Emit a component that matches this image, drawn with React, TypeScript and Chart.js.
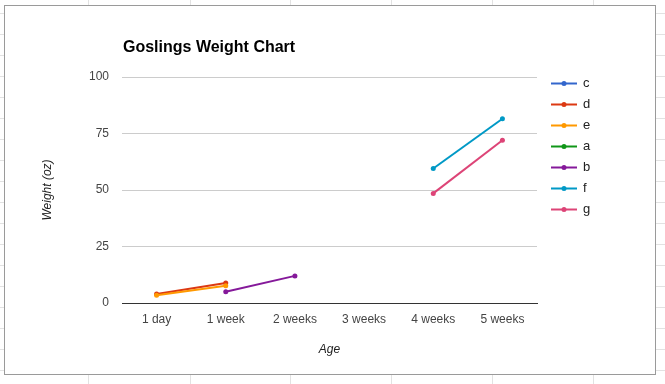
import React, { useEffect, useRef } from "react";
import { Chart, registerables } from "chart.js";

Chart.register(...registerables);

const categories = ["1 day", "1 week", "2 weeks", "3 weeks", "4 weeks", "5 weeks"];
const seriesNames = ["c", "d", "e", "a", "b", "f", "g"];
const seriesColors = ["#3366cc", "#dc3912", "#ff9900", "#109618", "#85199a", "#0099c6", "#dd4477"];
const cValues: (number | null)[] = [null, null, null, null, null, null];
const dValues: (number | null)[] = [4, 8.8, null, null, null, null];
const eValues: (number | null)[] = [3.4, 7.6, null, null, null, null];
const aValues: (number | null)[] = [null, null, null, null, null, null];
const bValues: (number | null)[] = [null, 5, 12, null, null, null];
const fValues: (number | null)[] = [null, null, null, null, 59.5, 81.5];
const gValues: (number | null)[] = [null, null, null, null, 48.5, 72];
const seriesValues = [cValues, dValues, eValues, aValues, bValues, fValues, gValues];
const yTicks = [0, 25, 50, 75, 100];
const chartTitle = "Goslings Weight Chart";
const xTitle = "Age";
const yTitle = "Weight (oz)";

const FONT = "Arial, 'Liberation Sans', sans-serif";

const backgroundPlugin = {
  id: "sheetBackground",
  beforeDraw(chart: any) {
    const ctx = chart.ctx;
    const W = chart.width;
    const H = chart.height;
    ctx.save();
    ctx.fillStyle = "#ffffff";
    ctx.fillRect(0, 0, W, H);
    ctx.strokeStyle = "#e2e2e2";
    ctx.lineWidth = 1;
    const cols = [88, 190, 290, 391, 492, 593];
    cols.forEach((x) => {
      ctx.beginPath();
      ctx.moveTo(x + 0.5, 0);
      ctx.lineTo(x + 0.5, H);
      ctx.stroke();
    });
    for (let y = 13; y < H; y += 21) {
      ctx.beginPath();
      ctx.moveTo(0, y + 0.5);
      ctx.lineTo(W, y + 0.5);
      ctx.stroke();
    }
    ctx.fillStyle = "#ffffff";
    ctx.fillRect(4, 5, 651, 369);
    ctx.strokeStyle = "#9a9a9a";
    ctx.strokeRect(4.5, 5.5, 651, 369);
    ctx.restore();
  },
  afterDraw(chart: any) {
    const ctx = chart.ctx;
    const area = chart.chartArea;
    ctx.save();
    // title
    ctx.fillStyle = "#000000";
    ctx.font = `bold 16px ${FONT}`;
    ctx.textAlign = "left";
    ctx.textBaseline = "middle";
    ctx.fillText(chartTitle, area.left + 1, 48);
    // legend
    const lx = area.right + 14;
    let ly = area.top + 6.5;
    chart.data.datasets.forEach((ds: any) => {
      ctx.strokeStyle = ds.borderColor;
      ctx.lineWidth = 2;
      ctx.beginPath();
      ctx.moveTo(lx, ly);
      ctx.lineTo(lx + 26, ly);
      ctx.stroke();
      ctx.fillStyle = ds.borderColor;
      ctx.beginPath();
      ctx.arc(lx + 13, ly, 2.5, 0, Math.PI * 2);
      ctx.fill();
      ctx.fillStyle = "#222222";
      ctx.font = `13px ${FONT}`;
      ctx.textAlign = "left";
      ctx.textBaseline = "middle";
      ctx.fillText(ds.label, lx + 32, ly);
      ly += 21;
    });
    ctx.restore();
  },
};

export default function App() {
  const canvasRef = useRef<HTMLCanvasElement | null>(null);

  useEffect(() => {
    const canvas = canvasRef.current;
    if (!canvas) return;
    const n = seriesNames.length;
    const chart = new Chart(canvas, {
      type: "line",
      data: {
        labels: categories,
        datasets: seriesNames.map((name, i) => ({
          label: name,
          data: seriesValues[i],
          borderColor: seriesColors[i],
          backgroundColor: seriesColors[i],
          borderWidth: 2,
          pointRadius: 2.5,
          pointBorderWidth: 0,
          pointBackgroundColor: seriesColors[i],
          tension: 0,
          spanGaps: false,
          order: n - 1 - i,
        })),
      },
      options: {
        responsive: false,
        animation: false,
        devicePixelRatio: 1,
        layout: { padding: { left: 4, right: 128, top: 77, bottom: 0 } },
        plugins: {
          legend: { display: false },
          title: { display: false },
          tooltip: { enabled: false },
        },
        scales: {
          x: {
            type: "category",
            offset: true,
            grid: { display: false, drawTicks: false },
            border: { display: true, color: "#333333", width: 1 },
            ticks: {
              color: "#444444",
              font: { family: FONT, size: 12 },
              padding: 9,
              maxRotation: 0,
              autoSkip: false,
            },
            title: {
              display: true,
              text: xTitle,
              color: "#222222",
              font: { family: FONT, size: 12, style: "italic" },
              padding: { top: 0, bottom: 27 },
            },
            afterFit: (scale: any) => {
              scale.height = 81;
            },
          },
          y: {
            min: 0,
            max: 100,
            afterBuildTicks: (scale: any) => {
              scale.ticks = yTicks.map((v) => ({ value: v }));
            },
            grid: { color: "#cccccc", drawTicks: false, lineWidth: 1 },
            border: { display: false },
            ticks: {
              color: "#444444",
              font: { family: FONT, size: 12 },
              padding: 13,
            },
            title: {
              display: true,
              text: yTitle,
              color: "#222222",
              font: { family: FONT, size: 12, style: "italic" },
              padding: { top: 36, bottom: 0 },
            },
            afterFit: (scale: any) => {
              scale.width = 118;
            },
          },
        },
      },
      plugins: [backgroundPlugin],
    });
    return () => chart.destroy();
  }, []);

  return (
    <div style={{ position: "absolute", left: 0, top: 0, width: 665, height: 384 }}>
      <canvas ref={canvasRef} width={665} height={384} style={{ display: "block" }} />
    </div>
  );
}
